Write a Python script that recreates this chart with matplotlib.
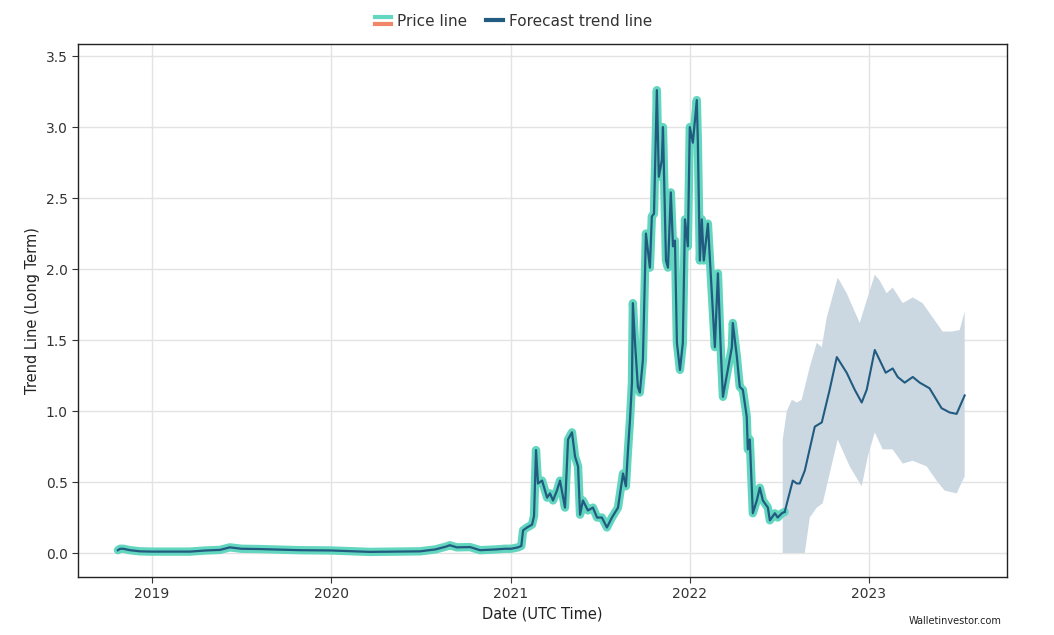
import numpy as np
import pandas as pd
import matplotlib
matplotlib.use("Agg")
import matplotlib.pyplot as plt
from matplotlib.legend_handler import HandlerBase
from matplotlib.lines import Line2D

# ---------------- data (decimal years -> values) ----------------
price_t = [2018.810, 2018.822, 2018.840, 2018.877, 2018.933, 2019.000, 2019.212, 2019.300,
           2019.380, 2019.435, 2019.500, 2019.600, 2019.826, 2020.000, 2020.216, 2020.495,
           2020.580, 2020.640, 2020.662, 2020.700, 2020.774, 2020.830, 2020.914, 2020.969,
           2021.003, 2021.042, 2021.060, 2021.070, 2021.092, 2021.120, 2021.131, 2021.142,
           2021.153, 2021.176, 2021.204, 2021.220, 2021.237, 2021.259, 2021.276, 2021.304,
           2021.321, 2021.343, 2021.360, 2021.377, 2021.388, 2021.404, 2021.432, 2021.460,
           2021.483, 2021.510, 2021.538, 2021.566, 2021.600, 2021.628, 2021.644, 2021.656,
           2021.667, 2021.678, 2021.683, 2021.695, 2021.711, 2021.722, 2021.739, 2021.756,
           2021.778, 2021.789, 2021.801, 2021.817, 2021.828, 2021.845, 2021.851, 2021.868,
           2021.879, 2021.895, 2021.907, 2021.918, 2021.929, 2021.946, 2021.962, 2021.974,
           2021.990, 2022.001, 2022.018, 2022.040, 2022.046, 2022.057, 2022.068, 2022.079,
           2022.102, 2022.124, 2022.141, 2022.158, 2022.175, 2022.186, 2022.213, 2022.236,
           2022.241, 2022.264, 2022.280, 2022.297, 2022.319, 2022.325, 2022.336, 2022.353,
           2022.375, 2022.392, 2022.409, 2022.437, 2022.448, 2022.476, 2022.492, 2022.515,
           2022.531]
price_v = [0.02, 0.03, 0.03, 0.02, 0.012, 0.01, 0.01, 0.018,
           0.022, 0.04, 0.03, 0.028, 0.02, 0.018, 0.008, 0.012,
           0.025, 0.045, 0.055, 0.04, 0.042, 0.02, 0.025, 0.03,
           0.03, 0.04, 0.05, 0.16, 0.18, 0.20, 0.26, 0.725,
           0.49, 0.51, 0.39, 0.42, 0.37, 0.44, 0.51, 0.32,
           0.80, 0.85, 0.68, 0.61, 0.27, 0.37, 0.30, 0.32,
           0.25, 0.25, 0.18, 0.25, 0.32, 0.56, 0.47, 0.73,
           0.94, 1.20, 1.76, 1.48, 1.17, 1.13, 1.36, 2.25,
           2.01, 2.37, 2.39, 3.26, 2.65, 2.77, 3.00, 2.06,
           2.01, 2.54, 2.16, 2.20, 1.48, 1.29, 1.48, 2.35,
           2.16, 3.00, 2.89, 3.19, 2.89, 2.06, 2.35, 2.06,
           2.32, 1.83, 1.45, 1.97, 1.40, 1.10, 1.29, 1.45,
           1.62, 1.38, 1.17, 1.15, 0.96, 0.73, 0.80, 0.28,
           0.37, 0.46, 0.37, 0.32, 0.23, 0.28, 0.25, 0.28,
           0.29]

fc_t = [2022.531, 2022.576, 2022.598, 2022.615, 2022.643, 2022.699, 2022.738, 2022.782,
        2022.822, 2022.877, 2022.922, 2022.961, 2022.989, 2023.034, 2023.061, 2023.095,
        2023.134, 2023.162, 2023.201, 2023.246, 2023.285, 2023.340, 2023.407, 2023.452,
        2023.491, 2023.536]
fc_v = [0.29, 0.51, 0.49, 0.49, 0.58, 0.89, 0.92, 1.15,
        1.38, 1.27, 1.15, 1.06, 1.15, 1.43, 1.36, 1.27,
        1.30, 1.24, 1.20, 1.24, 1.20, 1.16, 1.02, 0.99,
        0.98, 1.11]

up_t = [2022.520, 2022.543, 2022.571, 2022.598, 2022.626, 2022.671, 2022.710, 2022.738,
        2022.766, 2022.827, 2022.877, 2022.950, 2022.989, 2023.034, 2023.061, 2023.100,
        2023.134, 2023.190, 2023.246, 2023.301, 2023.357, 2023.413, 2023.463, 2023.508,
        2023.536]
up_v = [0.80, 1.00, 1.08, 1.06, 1.08, 1.31, 1.48, 1.45,
        1.66, 1.94, 1.83, 1.62, 1.78, 1.96, 1.92, 1.83,
        1.87, 1.76, 1.80, 1.76, 1.66, 1.56, 1.56, 1.57,
        1.70]

low_t = [2022.520, 2022.643, 2022.671, 2022.710, 2022.743, 2022.827, 2022.894, 2022.961,
         2022.995, 2023.034, 2023.078, 2023.134, 2023.190, 2023.246, 2023.324, 2023.379,
         2023.424, 2023.491, 2023.536]
low_v = [0.00, 0.00, 0.25, 0.32, 0.35, 0.80, 0.61, 0.47,
         0.68, 0.85, 0.73, 0.73, 0.63, 0.65, 0.61, 0.51,
         0.44, 0.42, 0.54]

year_ticks = [2019, 2020, 2021, 2022, 2023]
y_ticks = [0.0, 0.5, 1.0, 1.5, 2.0, 2.5, 3.0, 3.5]


def to_date(years):
    years = np.asarray(years, dtype=float)
    base = np.floor(years).astype(int)
    out = []
    for y, b in zip(years, base):
        start = pd.Timestamp(year=int(b), month=1, day=1)
        end = pd.Timestamp(year=int(b) + 1, month=1, day=1)
        out.append(start + (end - start) * (y - b))
    return pd.to_datetime(out)


TEAL = "#62d6be"
DARK = "#215b80"
BAND = "#cbd8e1"
SALMON = "#f0876b"

fig = plt.figure(figsize=(10.54, 6.35), dpi=100)
ax = fig.add_axes([0.074, 0.0913, 0.881, 0.8394])

pt = to_date(price_t)
ft = to_date(fc_t)
ax.fill(np.concatenate([to_date(up_t), to_date(low_t)[::-1]]),
        np.concatenate([up_v, low_v[::-1]]), color=BAND, lw=0, zorder=1)
ax.plot(pt, price_v, color=TEAL, lw=6, solid_capstyle="round", solid_joinstyle="round", zorder=2)
ax.plot(pt, price_v, color=DARK, lw=1.6, zorder=3)
ax.plot(ft, fc_v, color=DARK, lw=1.5, zorder=3)

ax.set_xlim(to_date([2018.587])[0], to_date([2023.77])[0])
ax.set_ylim(-0.169, 3.585)
ax.set_yticks(y_ticks)
ax.set_yticklabels([f"{v:.1f}" for v in y_ticks])
ax.set_xticks(to_date(year_ticks))
ax.set_xticklabels([str(y) for y in year_ticks])
ax.grid(True, color="#e3e3e3", lw=1)
ax.set_axisbelow(True)
ax.tick_params(labelsize=10, colors="#333333", length=4)
for s in ax.spines.values():
    s.set_color("#222222")
    s.set_linewidth(1)
ax.set_xlabel("Date (UTC Time)", fontsize=10.5, color="#222222")
ax.set_ylabel("Trend Line (Long Term)", fontsize=10.5, color="#222222")


class PriceHandler(HandlerBase):
    def create_artists(self, legend, orig_handle, xdescent, ydescent, width, height, fontsize, trans):
        l1 = Line2D([xdescent + 0, width], [height * 0.8, height * 0.8], color=TEAL, lw=3, transform=trans)
        l2 = Line2D([xdescent + 0, width], [height * 0.2, height * 0.2], color=SALMON, lw=3, transform=trans)
        return [l1, l2]


price_handle = Line2D([], [], color=TEAL)
fc_handle = Line2D([], [], color=DARK, lw=3)
leg = fig.legend([price_handle, fc_handle], ["Price line", "Forecast trend line"],
                 handler_map={price_handle: PriceHandler()}, loc="upper center",
                 bbox_to_anchor=(0.487, 1.0), ncol=2, frameon=False, fontsize=11,
                 handlelength=1.1, handletextpad=0.4, columnspacing=1.2)
for t in leg.get_texts():
    t.set_color("#333333")

fig.text(0.95, 0.022, "Walletinvestor.com", fontsize=7, ha="right", va="center", color="#222222")

fig.savefig("out.png", dpi=100)
